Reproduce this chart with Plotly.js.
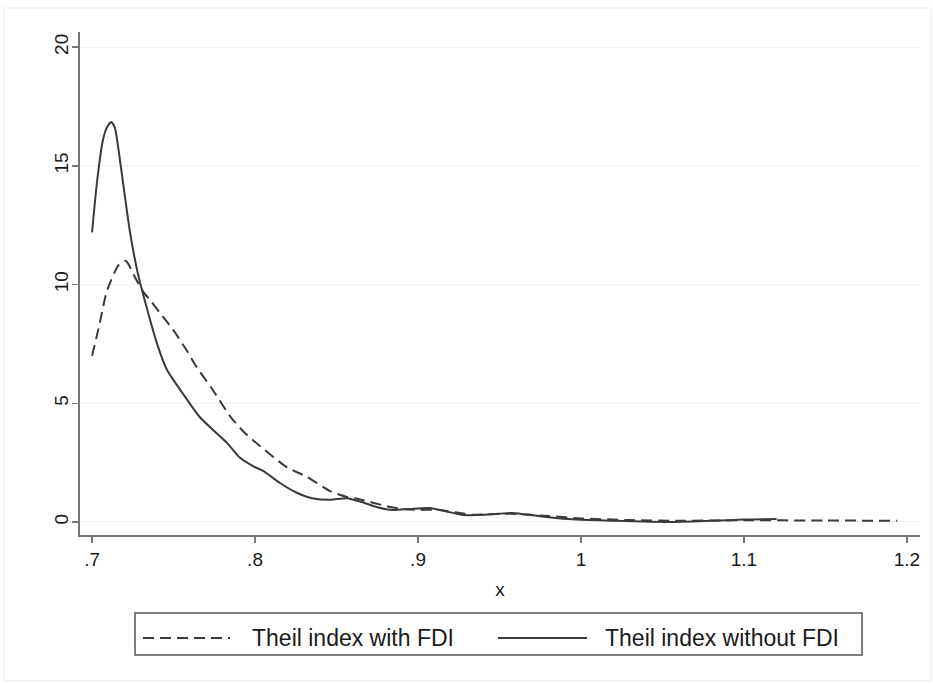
<!DOCTYPE html>
<html>
<head>
<meta charset="utf-8">
<script src="https://cdn.plot.ly/plotly-3.0.1.min.js"></script>
<style>html,body{margin:0;padding:0;background:#fff;}#chart{width:933px;height:684px;}</style>
</head>
<body>
<div id="chart"></div>
<script>
// Theil index with FDI (dashed)
const xWith = [0.700, 0.7045, 0.709, 0.716, 0.7202, 0.7215, 0.7264, 0.7313, 0.7356, 0.7417, 0.7497, 0.7583, 0.7644, 0.7742, 0.7847, 0.793, 0.803, 0.8196, 0.8319, 0.846, 0.8564, 0.8628, 0.8828, 0.8947, 0.9135, 0.9337, 0.95, 0.9626, 0.98, 1.0, 1.03, 1.06, 1.1, 1.15, 1.194];
const yWith = [7.0, 8.3, 9.7, 10.8, 11.0, 10.95, 10.3, 9.7, 9.35, 8.8, 8.1, 7.2, 6.5, 5.55, 4.45, 3.8, 3.2, 2.3, 1.9, 1.3, 1.05, 0.98, 0.63, 0.52, 0.5, 0.3, 0.35, 0.33, 0.25, 0.15, 0.08, 0.05, 0.07, 0.06, 0.05];

// Theil index without FDI (solid)
const xWithout = [0.700, 0.703, 0.7067, 0.709, 0.7117, 0.714, 0.716, 0.719, 0.7233, 0.728, 0.7313, 0.7399, 0.746, 0.7558, 0.7663, 0.7828, 0.7908, 0.7988, 0.805, 0.8153, 0.825, 0.835, 0.846, 0.8564, 0.865, 0.875, 0.8847, 0.895, 0.907, 0.917, 0.9276, 0.94, 0.958, 0.9626, 0.98, 0.9975, 1.02, 1.0546, 1.08, 1.1, 1.12];
const yWithout = [12.2, 14.3, 16.1, 16.6, 16.85, 16.6, 15.8, 14.3, 12.2, 10.5, 9.6, 7.5, 6.4, 5.4, 4.4, 3.33, 2.7, 2.35, 2.15, 1.64, 1.25, 1.0, 0.93, 1.0, 0.85, 0.62, 0.5, 0.55, 0.59, 0.45, 0.29, 0.3, 0.38, 0.35, 0.2, 0.1, 0.05, 0.0, 0.05, 0.1, 0.12];

const seriesNames = ["Theil index with FDI", "Theil index without FDI"];
const xTickVals = [0.7, 0.8, 0.9, 1.0, 1.1, 1.2];
const xTickText = [".7", ".8", ".9", "1", "1.1", "1.2"];
const yTickVals = [0, 5, 10, 15, 20];
const yTickText = ["0", "5", "10", "15", "20"];

const FONT = "Liberation Sans, Arial, Helvetica, sans-serif";
const INK = "#3a3a3a";
const TXT = "#1a1a1a";
const DASH = "11px,6px";

const traces = [
  {x: xWith, y: yWith, name: seriesNames[0], mode: "lines",
   line: {color: INK, width: 2, dash: DASH, shape: "spline", smoothing: 0.6}},
  {x: xWithout, y: yWithout, name: seriesNames[1], mode: "lines",
   line: {color: INK, width: 2, shape: "spline", smoothing: 0.6}}
];

// legend drawn as a boxed key below the plot (paper coordinates)
const legY = -0.2048;
const layout = {
  width: 933, height: 684,
  paper_bgcolor: "#ffffff", plot_bgcolor: "#ffffff",
  margin: {l: 80, r: 13, t: 32, b: 149},
  font: {family: FONT, color: TXT},
  showlegend: false,
  xaxis: {
    range: [0.6926, 1.208],
    tickvals: xTickVals, ticktext: xTickText,
    ticks: "outside", ticklen: 6, tickwidth: 1.5, tickcolor: "#777",
    showline: true, linecolor: "#777", linewidth: 2,
    showgrid: false, zeroline: false,
    tickfont: {family: FONT, size: 19, color: TXT},
    title: {text: "x", font: {family: FONT, size: 19, color: TXT}, standoff: 14},
    automargin: false
  },
  yaxis: {
    range: [-0.55, 20.64],
    tickvals: yTickVals, ticktext: yTickText,
    tickangle: -90,
    ticklabelstandoff: -4,
    ticks: "outside", ticklen: 6, tickwidth: 1.5, tickcolor: "#777",
    showline: true, linecolor: "#777", linewidth: 2,
    showgrid: true, gridcolor: "#efefef", gridwidth: 1,
    zeroline: false,
    tickfont: {family: FONT, size: 19, color: TXT},
    automargin: false
  },
  shapes: [
    {type: "rect", xref: "paper", yref: "paper",
     x0: -0.0905, x1: 1.013, y0: -0.29, y1: 1.0477,
     line: {color: "#ebebeb", width: 1}, fillcolor: "rgba(0,0,0,0)", layer: "below"},
    {type: "rect", xref: "paper", yref: "paper",
     x0: 0.0655, x1: 0.9310, y0: -0.2386, y1: -0.1551,
     line: {color: "#555", width: 1.5}, fillcolor: "#ffffff"},
    {type: "line", xref: "paper", yref: "paper",
     x0: 0.075, x1: 0.1786, y0: legY, y1: legY,
     line: {color: INK, width: 2, dash: DASH}},
    {type: "line", xref: "paper", yref: "paper",
     x0: 0.4976, x1: 0.6036, y0: legY, y1: legY,
     line: {color: INK, width: 2}}
  ],
  annotations: [
    {xref: "paper", yref: "paper", x: 0.2024, y: legY, xanchor: "left", yanchor: "middle",
     text: seriesNames[0], showarrow: false, font: {family: FONT, size: 23, color: TXT}},
    {xref: "paper", yref: "paper", x: 0.6226, y: legY, xanchor: "left", yanchor: "middle",
     text: seriesNames[1], showarrow: false, font: {family: FONT, size: 23, color: TXT}}
  ]
};

Plotly.newPlot("chart", traces, layout, {displayModeBar: false, staticPlot: true});
</script>
</body>
</html>
